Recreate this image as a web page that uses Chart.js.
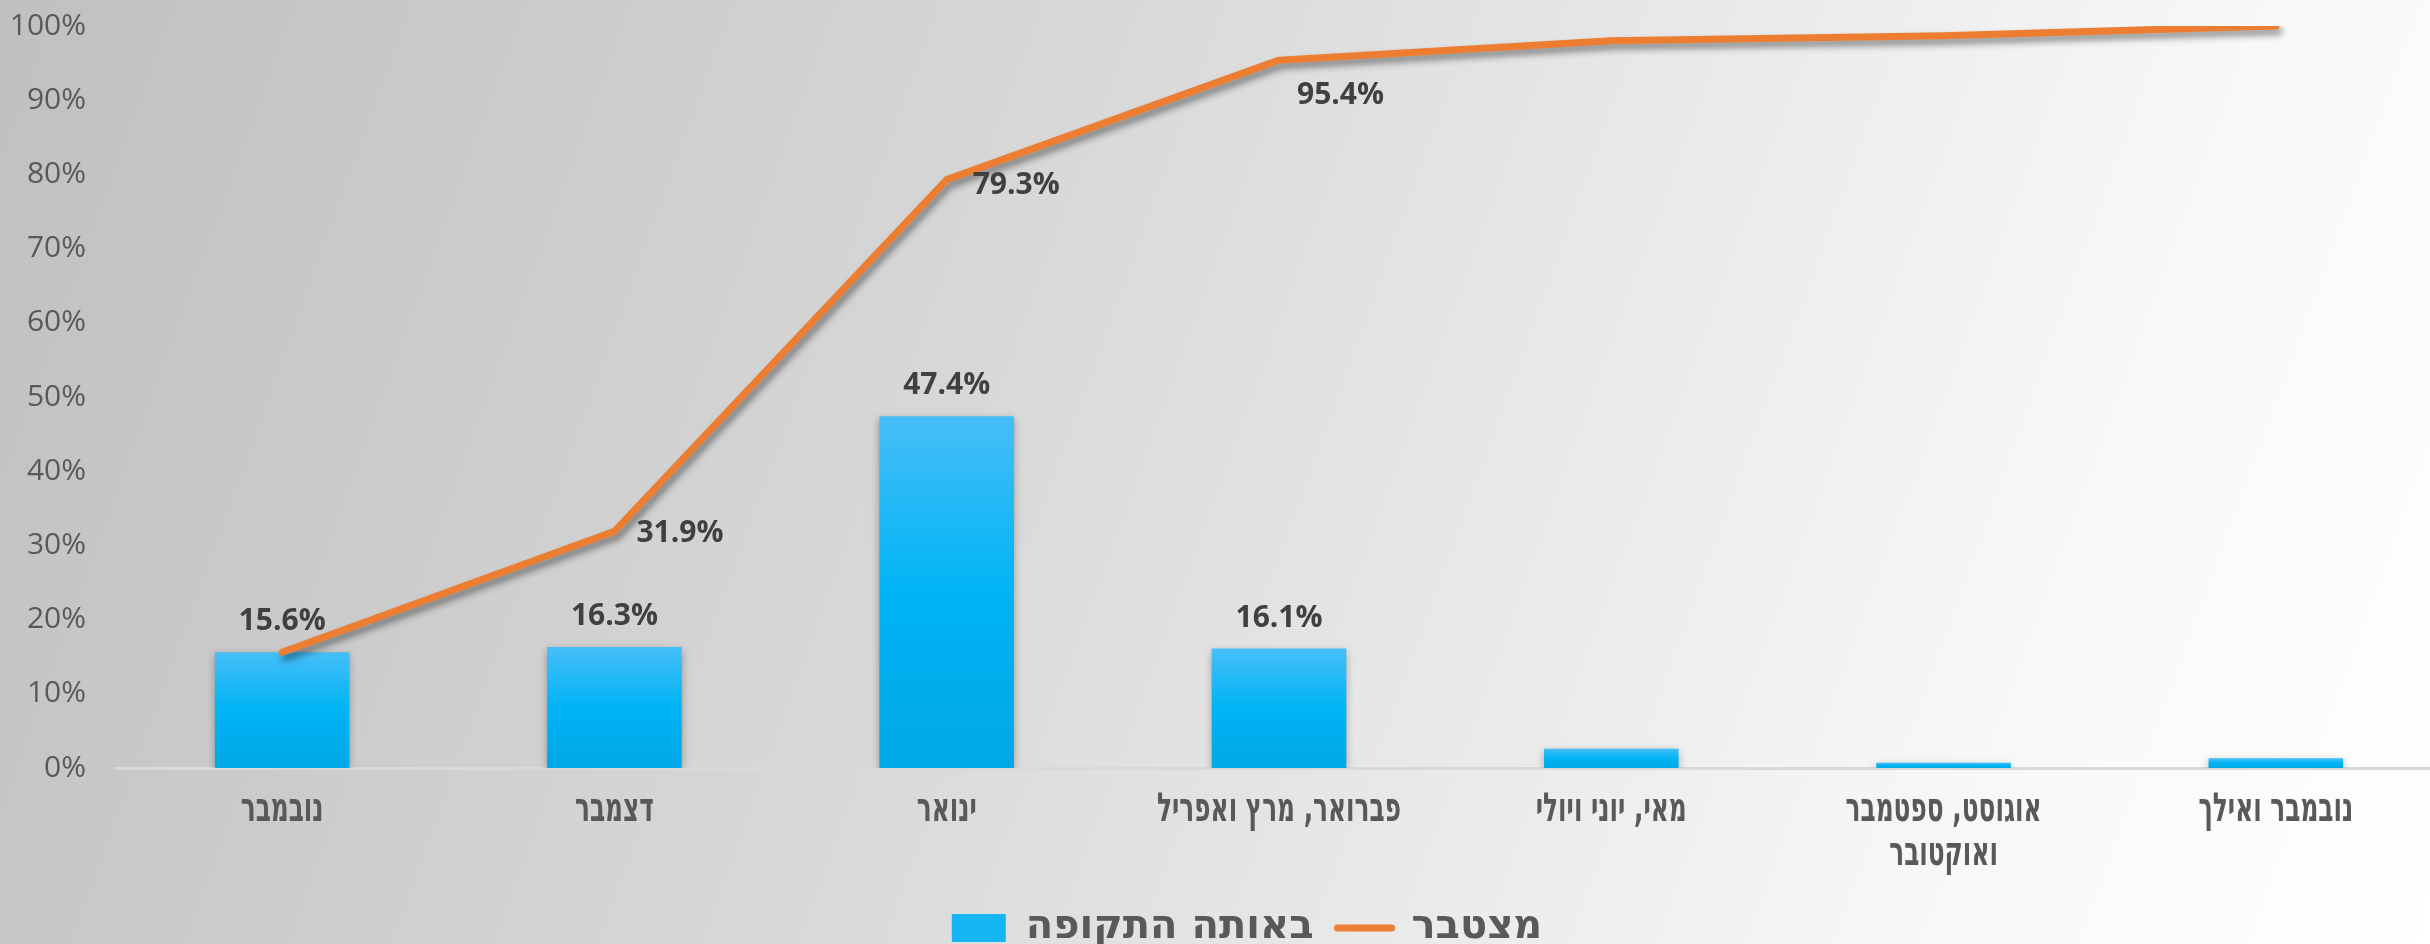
<!DOCTYPE html>
<html lang="he">
<head>
<meta charset="utf-8">
<script src="https://cdn.jsdelivr.net/npm/chart.js@4"></script>
<style>
    html, body {
        margin: 0;
        width: 2430px;
        height: 944px;
        overflow: hidden;
    }
    body {
        background: linear-gradient(110deg, #c0c0c0 0%, #cacaca 18%, #d8d8d8 40%, #e9e9e9 62%, #f8f8f8 82%, #ffffff 100%);
    }
    #chartWrap {
        position: relative;
        width: 2442px;
        height: 958px;
    }
</style>
</head>
<body>
<div id="chartWrap"><canvas id="graficoTkufot"></canvas></div>
<script>
// --- נתונים ---
const tkufot = [
    'נובמבר',
    'דצמבר',
    'ינואר',
    'פברואר, מרץ ואפריל',
    'מאי, יוני ויולי',
    ['אוגוסט, ספטמבר', 'ואוקטובר'],
    'נובמבר ואילך'
];

// אחוז בכל תקופה
const beotaTkufa = [15.6, 16.3, 47.4, 16.1, 2.6, 0.7, 1.3];

// אחוז מצטבר
const mitztaber = [15.6, 31.9, 79.3, 95.4, 98.0, 98.7, 100.0];

const yTicks = [0, 10, 20, 30, 40, 50, 60, 70, 80, 90, 100];

const KATOM = '#ED7D31';
const TCHELET = '#16B5F4';
const AFOR = '#595959';
const GOFAN = '"DejaVu Sans", sans-serif';

// צבע מדורג לכל עמודה, מלמעלה למטה
function gradientAmuda(context) {
    const chart = context.chart;
    const y = chart.scales.y;
    if (!chart.chartArea || !y || context.raw == null) {
        return TCHELET;
    }
    const top = y.getPixelForValue(context.raw);
    const bottom = y.getPixelForValue(0);
    const g = chart.ctx.createLinearGradient(0, top, 0, Math.max(bottom, top + 1));
    g.addColorStop(0, '#46BEF8');
    g.addColorStop(0.5, '#00B4F5');
    g.addColorStop(1, '#00A8E6');
    return g;
}

// צל מתחת לעמודות ולקו
const tzelPlugin = {
    id: 'tzel',
    beforeDatasetDraw(chart, args) {
        const ctx = chart.ctx;
        ctx.save();
        if (args.meta.type === 'line') {
            ctx.shadowColor = 'rgba(0, 0, 0, 0.45)';
            ctx.shadowBlur = 7;
            ctx.shadowOffsetX = 3;
            ctx.shadowOffsetY = 5;
        } else {
            ctx.shadowColor = 'rgba(0, 0, 0, 0.3)';
            ctx.shadowBlur = 8;
            ctx.shadowOffsetX = 0;
            ctx.shadowOffsetY = 3;
        }
    },
    afterDatasetDraw(chart) {
        chart.ctx.restore();
    }
};

// תוויות ערכים
const tviyotPlugin = {
    id: 'tviyot',
    afterDatasetsDraw(chart, args, opts) {
        const ctx = chart.ctx;
        ctx.save();
        ctx.font = 'bold 30px "Open Sans", sans-serif';
        ctx.fillStyle = '#404040';
        ctx.textBaseline = 'alphabetic';

        const barMeta = chart.getDatasetMeta(1);
        ctx.textAlign = 'center';
        opts.amudot.forEach((i) => {
            const el = barMeta.data[i];
            ctx.fillText(beotaTkufa[i].toFixed(1) + '%', el.x, el.y - 22);
        });

        const lineMeta = chart.getDatasetMeta(0);
        ctx.textAlign = 'left';
        opts.nekudot.forEach((p) => {
            const el = lineMeta.data[p.i];
            ctx.fillText(mitztaber[p.i].toFixed(1) + '%', el.x + p.dx, el.y + p.dy);
        });
        ctx.restore();
    }
};

// תוויות ציר X בגופן מכווץ, במיקום של כל קטגוריה על הציר
const tviyotXPlugin = {
    id: 'tviyotX',
    afterDraw(chart, args, opts) {
        const ctx = chart.ctx;
        const x = chart.scales.x;
        ctx.save();
        ctx.font = 'bold ' + opts.size + 'px ' + GOFAN;
        ctx.fillStyle = AFOR;
        ctx.textAlign = 'center';
        ctx.textBaseline = 'alphabetic';
        x.ticks.forEach((t, i) => {
            const label = x.getLabelForValue(t.value);
            const lines = Array.isArray(label) ? label : [label];
            const cx = x.getPixelForTick(i);
            lines.forEach((line, j) => {
                ctx.save();
                ctx.translate(cx, x.top + opts.baseline + j * opts.lineGap);
                ctx.scale(opts.squeeze, 1);
                ctx.fillText(line, 0, 0);
                ctx.restore();
            });
        });
        ctx.restore();
    }
};

// מקרא מוזז מעט ימינה
const mikraPlugin = {
    id: 'mikra',
    afterLayout(chart, args, opts) {
        if (chart.legend) {
            chart.legend.left += opts.shift;
            chart.legend.right += opts.shift;
        }
    }
};

const ctx = document.getElementById('graficoTkufot').getContext('2d');

const myChart = new Chart(ctx, {
    type: 'bar',
    data: {
        labels: tkufot,
        datasets: [
            {
                type: 'line',
                label: 'מצטבר',
                data: mitztaber,
                borderColor: KATOM,
                backgroundColor: KATOM,
                borderWidth: 7,
                borderCapStyle: 'round',
                borderJoinStyle: 'round',
                pointRadius: 0,
                pointHoverRadius: 0,
                tension: 0,
                fill: false
            },
            {
                type: 'bar',
                label: 'באותה התקופה',
                data: beotaTkufa,
                backgroundColor: gradientAmuda,
                borderWidth: 0,
                categoryPercentage: 1,
                barPercentage: 0.405
            }
        ]
    },
    plugins: [tzelPlugin, tviyotPlugin, tviyotXPlugin, mikraPlugin],
    options: {
        responsive: true,
        maintainAspectRatio: false,
        animation: false,
        layout: {
            padding: { top: 26, left: 0, right: 0, bottom: 0 }
        },
        plugins: {
            tooltip: { enabled: false },
            tviyot: {
                amudot: [0, 1, 2, 3],
                nekudot: [
                    { i: 1, dx: 22, dy: 11 },
                    { i: 2, dx: 26, dy: 14 },
                    { i: 3, dx: 18, dy: 44 }
                ]
            },
            tviyotX: {
                size: 40,
                baseline: 53,
                lineGap: 44,
                squeeze: 0.62
            },
            mikra: {
                shift: 26
            },
            legend: {
                position: 'bottom',
                reverse: true,
                labels: {
                    color: AFOR,
                    font: { family: GOFAN, size: 40, weight: 'bold' },
                    usePointStyle: true,
                    pointStyleWidth: 54,
                    boxHeight: 28,
                    padding: 24,
                    generateLabels(chart) {
                        const items = Chart.defaults.plugins.legend.labels.generateLabels(chart);
                        return items.map((item) => {
                            if (item.datasetIndex === 0) {
                                item.pointStyle = 'line';
                                item.strokeStyle = KATOM;
                                item.lineWidth = 7;
                                item.lineCap = 'round';
                            } else {
                                item.pointStyle = 'rect';
                                item.fillStyle = TCHELET;
                                item.lineWidth = 0;
                            }
                            return item;
                        });
                    }
                }
            }
        },
        scales: {
            x: {
                grid: { display: false },
                border: { display: true, color: '#D9D9D9', width: 3 },
                ticks: {
                    display: false,
                    autoSkip: false
                },
                afterFit(scale) {
                    scale.height = 116;
                }
            },
            y: {
                min: 0,
                max: 100,
                grid: { display: false },
                border: { display: false },
                afterBuildTicks(scale) {
                    scale.ticks = yTicks.map((v) => ({ value: v }));
                },
                ticks: {
                    color: AFOR,
                    padding: 22,
                    font: { family: '"Open Sans", sans-serif', size: 30, weight: 400 },
                    callback: (v) => v + '%'
                },
                afterFit(scale) {
                    scale.width = 116;
                    scale.paddingTop = 0;
                    scale.paddingBottom = 0;
                }
            }
        }
    }
});
</script>
</body>
</html>
